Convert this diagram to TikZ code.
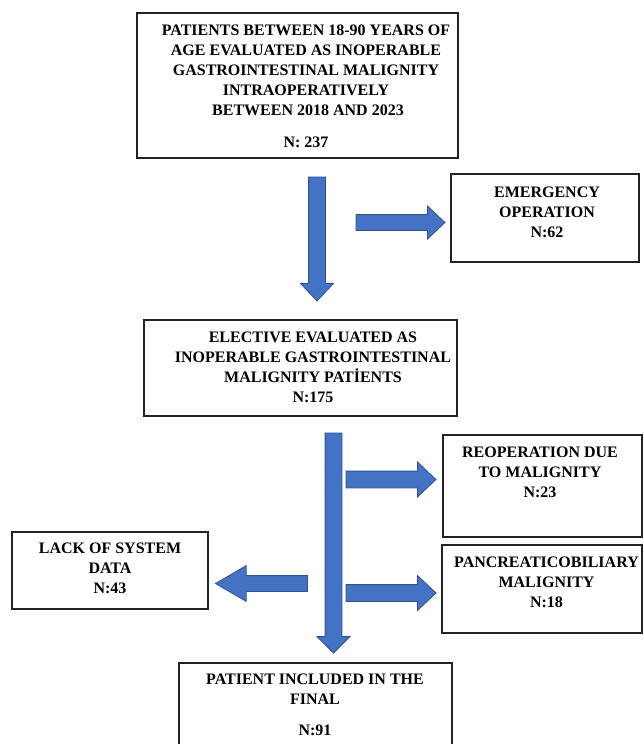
\documentclass[tikz,border=0pt]{standalone}
\usepackage{fontspec}
\setmainfont{Liberation Serif}
\usetikzlibrary{shapes.arrows}
\usetikzlibrary{positioning}

\definecolor{arrowblue}{RGB}{68,114,196}
\definecolor{arrowline}{RGB}{47,82,143}
\definecolor{boxline}{RGB}{35,35,35}

\begin{document}
\begin{tikzpicture}[x=1pt, y=-1pt,
    box/.style={rectangle, draw=boxline, line width=1.1pt, inner sep=0pt},
    boxtext/.style={anchor=north, inner sep=0pt, align=center,
      font=\fontsize{16}{20}\selectfont\bfseries},
    blockarrow/.style={single arrow, draw=arrowline, fill=arrowblue, line width=0.8pt,
      inner sep=0pt, outer sep=0pt, single arrow head indent=0pt, anchor=tail}]
      \useasboundingbox (0,0) rectangle (643,744);
      \clip (0,0) rectangle (643,744);

      % frames
      \node[box, minimum width=321pt, minimum height=145pt] (start) at (297.5, 85.5) {};
      \node[box, minimum width=188pt, minimum height=88pt] (emerg) at (545, 218) {};
      \node[box, minimum width=313pt, minimum height=96pt] (elective) at (300.5, 368) {};
      \node[box, minimum width=199pt, minimum height=102pt] (reop) at (542.5, 486) {};
      \node[box, minimum width=200pt, minimum height=88pt] (pancreas) at (542, 589) {};
      \node[box, minimum width=196pt, minimum height=77pt] (lack) at (110, 570.5) {};
      \node[box, minimum width=273pt, minimum height=100pt] (final) at (315.5, 713) {};

      % texts
      \node[boxtext] (starttext) at (306, 24.5) {PATIENTS BETWEEN 18-90 YEARS OF\\AGE EVALUATED AS INOPERABLE\\GASTROINTESTINAL MALIGNITY\\INTRAOPERATIVELY\\\ BETWEEN 2018 AND 2023\\[12pt]N: 237};
      \node[boxtext] (emergtext) at (547, 186.5) {EMERGENCY\\OPERATION\\N:62};
      \node[boxtext] (electivetext) at (313, 331.5) {ELECTIVE EVALUATED AS\\INOPERABLE GASTROINTESTINAL\\MALIGNITY PATİENTS\\N:175};
      \node[boxtext] (reoptext) at (540, 446.5) {REOPERATION DUE\\TO MALIGNITY\\N:23};
      \node[boxtext] (pancreastext) at (546.5, 556.5) {PANCREATICOBILIARY\\MALIGNITY\\N:18};
      \node[boxtext] (lacktext) at (110, 542.5) {LACK OF SYSTEM\\DATA\\N:43};
      \node[boxtext] (finaltext) at (315, 673.5) {PATIENT INCLUDED IN THE\\FINAL\\[11pt]N:91};

      % block arrows
      \node[blockarrow, rotate=-90, minimum height=124pt, inner ysep=8pt,
        single arrow head extend=8pt, single arrow tip angle=86.5] (down1) at (317, 177) {};
      \node[blockarrow, minimum height=89pt, inner ysep=7.5pt,
        single arrow head extend=8.5pt, single arrow tip angle=86.5] (right1) at (356, 222.5) {};
      \node[blockarrow, rotate=-90, minimum height=220pt, inner ysep=8pt,
        single arrow head extend=8pt, single arrow tip angle=90] (down2) at (333.5, 433) {};
      \node[blockarrow, minimum height=90pt, inner ysep=8pt,
        single arrow head extend=9pt, single arrow tip angle=86.7] (right2) at (346, 479.5) {};
      \node[blockarrow, minimum height=90pt, inner ysep=8pt,
        single arrow head extend=9pt, single arrow tip angle=86.7] (right3) at (346, 593) {};
      \node[blockarrow, rotate=180, minimum height=92pt, inner ysep=7.5pt,
        single arrow head extend=10pt, single arrow tip angle=60.5] (left1) at (307.5, 583.5) {};
    \end{tikzpicture}
\end{document}
